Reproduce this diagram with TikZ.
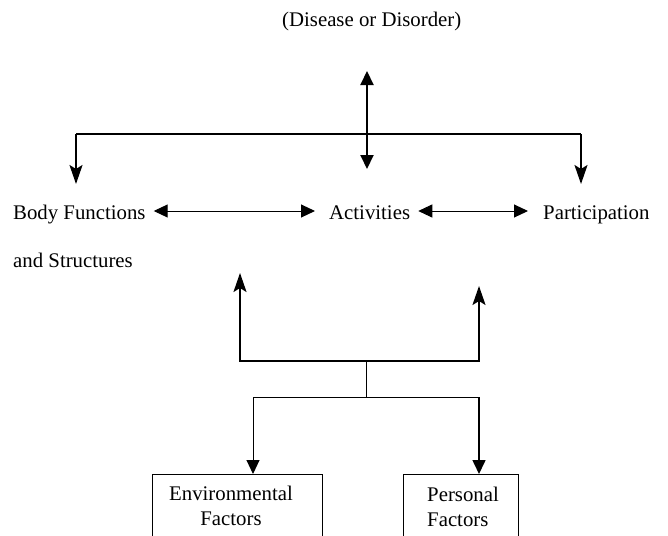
\documentclass[tikz,border=0pt]{standalone}
\usepackage{fontspec}
\setmainfont{Liberation Serif}
\usetikzlibrary{arrows.meta}
\begin{document}
\begin{tikzpicture}[x=1pt,y=-1pt,
  lbl/.style={inner sep=0pt, font=\fontsize{20.8}{24}\selectfont, anchor=base west},
  heavy/.style={line width=2pt, line join=miter},
  light/.style={line width=1pt},
  framebox/.style={draw, line width=1pt, inner sep=0pt, anchor=north west, minimum height=80pt},
  tri/.tip={Triangle[length=14pt,width=13pt]},
  stl/.tip={Stealth[length=19pt,width=13pt,inset=4pt]}]
\useasboundingbox (0,0) rectangle (668,535);
\fill[white] (0,0) rectangle (668,535);
\clip (0,0) rectangle (668,535);
% text nodes
\node[lbl] (dis) at (282,26.5) {(Disease or Disorder)};
\node[lbl] (bf) at (13,219) {Body Functions};
\node[lbl] (bf2) at (13,267.5) {and Structures};
\node[lbl] (act) at (329,219) {Activities};
\node[lbl] (par) at (543,219) {Participation};
% boxes
\node[framebox, minimum width=170pt] (envbox) at (152,474) {};
\node[framebox, minimum width=115pt] (perbox) at (403,474) {};
\node[lbl, anchor=base] (env1) at (231,500) {Environmental};
\node[lbl, anchor=base] (env2) at (231,525) {Factors};
\node[lbl] (per1) at (427,501) {Personal};
\node[lbl] (per2) at (427,526) {Factors};
% coordinates
\coordinate (topTip) at (367,71);
\coordinate (midTip) at (367,169);
\coordinate (lTop) at (76,134);
\coordinate (lTip) at (76,184);
\coordinate (rTop) at (581,134);
\coordinate (rTip) at (581,184);
\coordinate (row) at (0,211);
\coordinate (bLtip) at (240,273);
\coordinate (bL) at (240,361);
\coordinate (bR) at (479,361);
\coordinate (bRtip) at (479,286);
\coordinate (stemTop) at (366,361);
\coordinate (split) at (366,397);
\coordinate (eL) at (253,397);
\coordinate (eR) at (479,397);
% upper connectors
\draw[heavy, {tri}-{tri}] (topTip) -- (midTip);
\draw[heavy] (lTop) -- (rTop);
\draw[heavy, -{stl}] (lTop) -- (lTip);
\draw[heavy, -{stl}] (rTop) -- (rTip);
% row arrows
\draw[light, {tri}-{tri}] ([xshift=8pt]bf.east |- row) -- ([xshift=-14pt]act.west |- row);
\draw[light, {tri}-{tri}] ([xshift=8pt]act.east |- row) -- ([xshift=-15pt]par.west |- row);
% bracket
\draw[heavy, {stl}-{stl}] (bLtip) -- (bL) -- (bR) -- (bRtip);
\draw[light] (stemTop) -- (split);
\draw[light] (eL) -- (eR);
\draw[light, -{tri}] (eL) -- (eL |- envbox.north);
\draw[line width=1.6pt, -{tri}] (eR) -- (eR |- perbox.north);
\end{tikzpicture}
\end{document}
